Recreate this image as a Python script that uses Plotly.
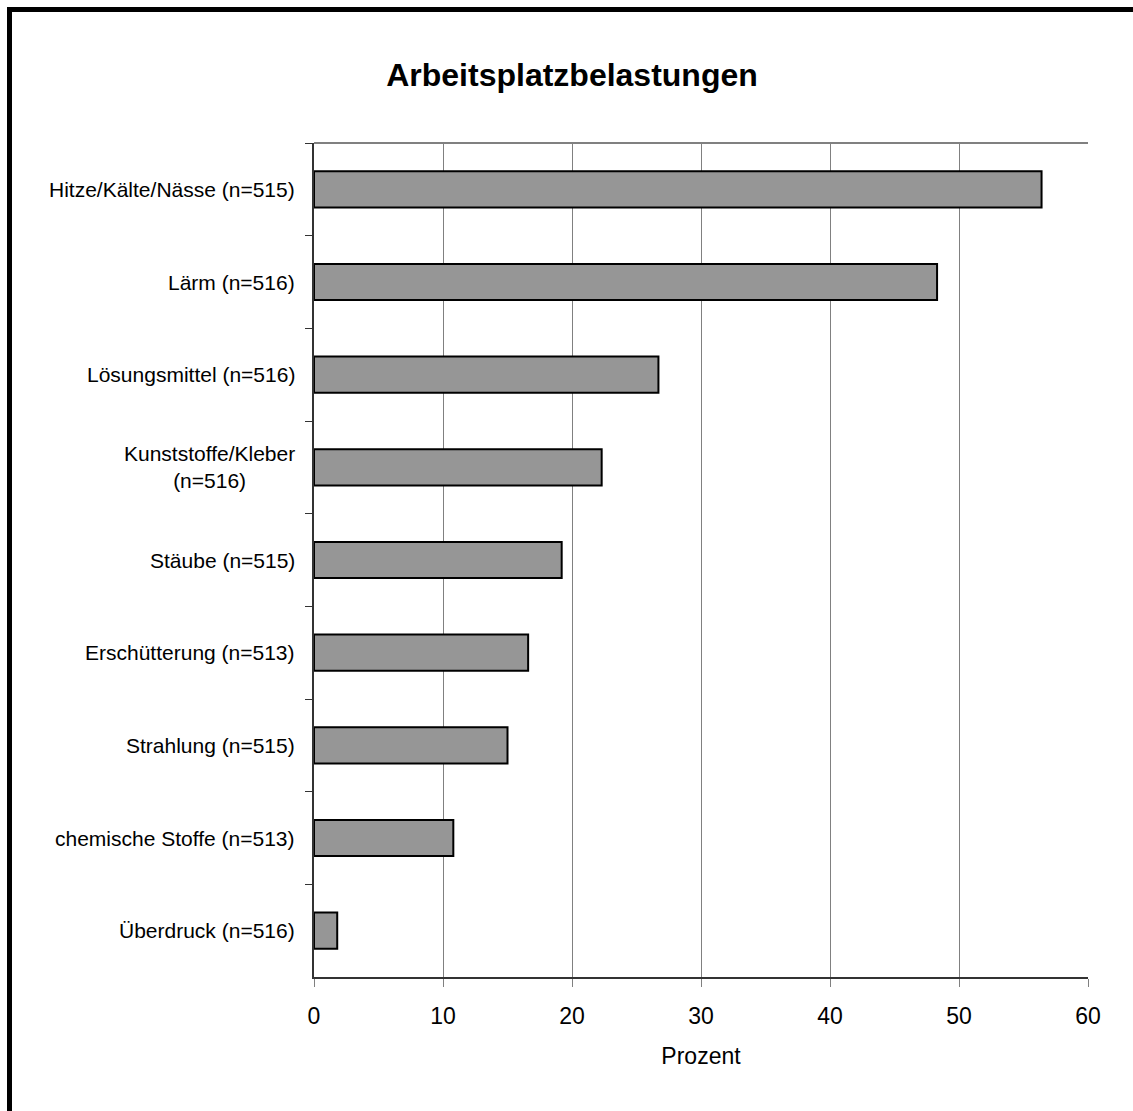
import plotly.graph_objects as go

# Kategorien (von oben nach unten) und Anteile in Prozent
categories = [
    "Hitze/Kälte/Nässe (n=515)",
    "Lärm (n=516)",
    "Lösungsmittel (n=516)",
    "Kunststoffe/Kleber<br>(n=516)",
    "Stäube (n=515)",
    "Erschütterung (n=513)",
    "Strahlung (n=515)",
    "chemische Stoffe (n=513)",
    "Überdruck (n=516)",
]
percent = [56.4, 48.3, 26.7, 22.3, 19.2, 16.6, 15.0, 10.8, 1.8]
x_ticks = [0, 10, 20, 30, 40, 50, 60]

FONT = "Liberation Sans, Arial, sans-serif"
W, H = 1133, 1111
L, R, T, B = 314, 45, 143, 134

fig = go.Figure()
fig.add_trace(go.Bar(
    x=percent,
    y=categories,
    orientation="h",
    marker=dict(color="#969696", line=dict(color="#000000", width=2)),
    hoverinfo="x+y",
))

# Kategorienbeschriftungen als Annotationen (zentrierter Zeilenumbruch)
annotations = [
    dict(x=0, y=c, xref="paper", yref="y", text=c, showarrow=False,
         xanchor="right", yanchor="middle", align="center", xshift=-17,
         font=dict(family=FONT, size=21, color="#000000"))
    for c in categories
]

fig.update_layout(
    width=W, height=H,
    margin=dict(l=L, r=R, t=T, b=B),
    paper_bgcolor="#ffffff",
    plot_bgcolor="#ffffff",
    bargap=0.61,
    showlegend=False,
    font=dict(family=FONT, color="#000000"),
    title=dict(
        text="<b>Arbeitsplatzbelastungen</b>",
        x=572 / W, xanchor="center", xref="container",
        y=1 - 75 / H, yanchor="middle", yref="container",
        font=dict(family=FONT, size=32, color="#000000"),
    ),
    xaxis=dict(
        range=[0, 60], tickvals=x_ticks, ticktext=[str(v) for v in x_ticks],
        showgrid=True, gridcolor="#808080", gridwidth=1,
        zeroline=False,
        showline=True, linecolor="#333333", linewidth=2,
        ticks="outside", ticklen=8, tickcolor="#808080", tickwidth=1,
        ticklabelstandoff=9,
        tickfont=dict(family=FONT, size=23, color="#000000"),
        title=dict(text="Prozent", font=dict(family=FONT, size=23, color="#000000"), standoff=20),
        fixedrange=True,
    ),
    yaxis=dict(
        categoryorder="array", categoryarray=categories,
        autorange="reversed",
        showticklabels=False,
        showgrid=False, zeroline=False,
        showline=True, linecolor="#333333", linewidth=2,
        ticks="outside", ticklen=7, tickcolor="#333333", tickwidth=1,
        tickson="boundaries",
        fixedrange=True,
    ),
    annotations=annotations,
    shapes=[
        # obere Begrenzung der Zeichenfläche
        dict(type="line", xref="paper", yref="paper", x0=0, x1=1, y0=1, y1=1,
             line=dict(color="#808080", width=2), layer="below"),
        # Rahmen links und oben
        dict(type="line", xref="paper", yref="paper",
             x0=-(L - 9.5) / (W - L - R), x1=-(L - 9.5) / (W - L - R),
             y0=1 + (T - 7) / (H - T - B), y1=-B / (H - T - B),
             line=dict(color="#000000", width=5)),
        dict(type="line", xref="paper", yref="paper",
             x0=-(L - 7) / (W - L - R), x1=1 + R / (W - L - R),
             y0=1 + (T - 9.5) / (H - T - B), y1=1 + (T - 9.5) / (H - T - B),
             line=dict(color="#000000", width=5)),
    ],
)

fig.write_html("out.html", config={"displayModeBar": False})
